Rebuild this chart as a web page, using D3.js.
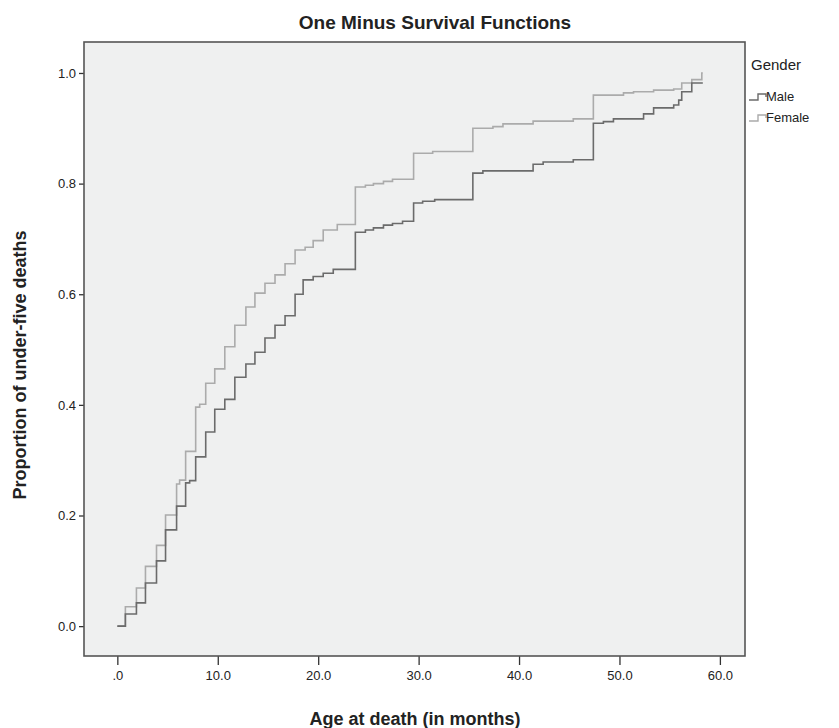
<!DOCTYPE html>
<html>
<head>
<meta charset="utf-8">
<script src="https://cdn.jsdelivr.net/npm/d3@7"></script>
<style>
  body { margin: 0; background: #fff; }
  text { font-family: "Liberation Sans", Arial, sans-serif; fill: #222; }
</style>
</head>
<body>
<script>
// data (months, proportion)
const maleTimes = [0, 0.8, 1.9, 2.8, 3.9, 4.8, 5.9, 6.8, 7.2, 7.8, 8.8, 9.7, 10.7, 11.7, 12.8, 13.7, 14.7, 15.7, 16.7, 17.7, 18.5, 19.5, 20.5, 21.5, 23.7, 24.7, 25.5, 26.5, 27.4, 28.4, 29.5, 30.4, 31.6, 35.4, 36.4, 41.4, 42.4, 45.4, 47.4, 48.4, 49.4, 52.4, 53.4, 55.4, 55.9, 56.2, 57.2, 58.3];
const maleValues = [0, 0.022, 0.042, 0.078, 0.118, 0.174, 0.217, 0.259, 0.263, 0.306, 0.351, 0.392, 0.41, 0.45, 0.474, 0.495, 0.521, 0.544, 0.561, 0.60, 0.626, 0.632, 0.638, 0.645, 0.712, 0.716, 0.72, 0.725, 0.728, 0.732, 0.765, 0.768, 0.771, 0.819, 0.823, 0.835, 0.839, 0.843, 0.909, 0.912, 0.917, 0.926, 0.937, 0.942, 0.951, 0.966, 0.982, 0.982];

const femaleTimes = [0, 0.8, 1.9, 2.8, 3.9, 4.8, 5.9, 6.2, 6.8, 7.8, 8.2, 8.8, 9.7, 10.7, 11.7, 12.8, 13.7, 14.7, 15.7, 16.7, 17.7, 18.7, 19.5, 20.5, 21.9, 23.7, 24.7, 25.5, 26.5, 27.4, 29.5, 31.4, 35.4, 37.4, 38.4, 41.4, 45.4, 47.4, 50.4, 51.4, 53.4, 55.4, 56.2, 57.2, 58.2, 58.3];
const femaleValues = [0, 0.035, 0.069, 0.108, 0.146, 0.201, 0.257, 0.264, 0.316, 0.396, 0.401, 0.439, 0.465, 0.505, 0.544, 0.577, 0.602, 0.62, 0.635, 0.655, 0.68, 0.685, 0.697, 0.716, 0.726, 0.794, 0.797, 0.800, 0.804, 0.808, 0.855, 0.858, 0.900, 0.903, 0.908, 0.913, 0.917, 0.960, 0.964, 0.966, 0.969, 0.971, 0.982, 0.988, 1.0, 1.0];

const xTicks = [0, 10, 20, 30, 40, 50, 60];
const yTicks = [0, 0.2, 0.4, 0.6, 0.8, 1.0];
const genders = ["Male", "Female"];

const width = 839, height = 728;
const frame = { left: 84, right: 745, top: 42, bottom: 656 };
const colors = { Male: "#6b6b6b", Female: "#ababab" };

const svg = d3.select("body")
  .append("svg")
  .attr("width", width)
  .attr("height", height);

const x = d3.scaleLinear().domain([-3.32, 62.5]).range([frame.left, frame.right]);
const y = d3.scaleLinear().domain([-0.054, 1.056]).range([frame.bottom, frame.top]);

// plot background
svg.append("rect")
  .attr("x", frame.left)
  .attr("y", frame.top)
  .attr("width", frame.right - frame.left)
  .attr("height", frame.bottom - frame.top)
  .attr("fill", "#eff0f0");

// axes
const xAxis = svg.append("g")
  .attr("transform", `translate(0,${frame.bottom})`)
  .call(d3.axisBottom(x).tickValues(xTicks).tickSize(9).tickPadding(6)
    .tickFormat(d => d === 0 ? ".0" : d.toFixed(1)));

const yAxis = svg.append("g")
  .attr("transform", `translate(${frame.left},0)`)
  .call(d3.axisLeft(y).tickValues(yTicks).tickSize(5).tickPadding(3)
    .tickFormat(d => d.toFixed(1)));

[xAxis, yAxis].forEach(g => {
  g.select(".domain").remove();
  g.selectAll(".tick line").attr("stroke", "#333").attr("stroke-width", 1.3);
  g.selectAll(".tick text")
    .style("font-family", "'Liberation Sans', Arial, sans-serif")
    .style("font-size", "13px")
    .attr("fill", "#333");
});

// step curves
const line = d3.line()
  .x(d => x(d[0]))
  .y(d => y(d[1]))
  .curve(d3.curveStepAfter);

const series = [
  { name: "Female", data: d3.zip(femaleTimes, femaleValues) },
  { name: "Male", data: d3.zip(maleTimes, maleValues) }
];

svg.selectAll(".curve")
  .data(series)
  .enter()
  .append("path")
  .attr("class", "curve")
  .attr("d", d => line(d.data))
  .attr("fill", "none")
  .attr("stroke", d => colors[d.name])
  .attr("stroke-width", 1.6);

// frame
svg.append("rect")
  .attr("x", frame.left)
  .attr("y", frame.top)
  .attr("width", frame.right - frame.left)
  .attr("height", frame.bottom - frame.top)
  .attr("fill", "none")
  .attr("stroke", "#555")
  .attr("stroke-width", 1.6);

// titles
svg.append("text")
  .attr("x", 435)
  .attr("y", 29)
  .attr("text-anchor", "middle")
  .style("font-size", "19px")
  .style("font-weight", "bold")
  .text("One Minus Survival Functions");

svg.append("text")
  .attr("x", 415)
  .attr("y", 725)
  .attr("text-anchor", "middle")
  .style("font-size", "18px")
  .style("font-weight", "bold")
  .text("Age at death (in months)");

svg.append("text")
  .attr("transform", "translate(26,365) rotate(-90)")
  .attr("text-anchor", "middle")
  .style("font-size", "18px")
  .style("font-weight", "bold")
  .text("Proportion of under-five deaths");

// legend
const legend = svg.append("g").attr("transform", "translate(749,0)");

legend.append("text")
  .attr("x", 2)
  .attr("y", 70)
  .style("font-size", "15px")
  .attr("fill", "#333")
  .text("Gender");

const items = legend.selectAll(".item")
  .data(genders)
  .enter()
  .append("g")
  .attr("class", "item")
  .attr("transform", (d, i) => `translate(0,${97 + i * 21})`);

items.append("path")
  .attr("d", "M0,3H9V-3H17V0")
  .attr("fill", "none")
  .attr("stroke", d => colors[d])
  .attr("stroke-width", 1.4);

items.append("text")
  .attr("x", 17)
  .attr("y", 4)
  .style("font-size", "13px")
  .attr("fill", "#333")
  .text(d => d);
</script>
</body>
</html>
